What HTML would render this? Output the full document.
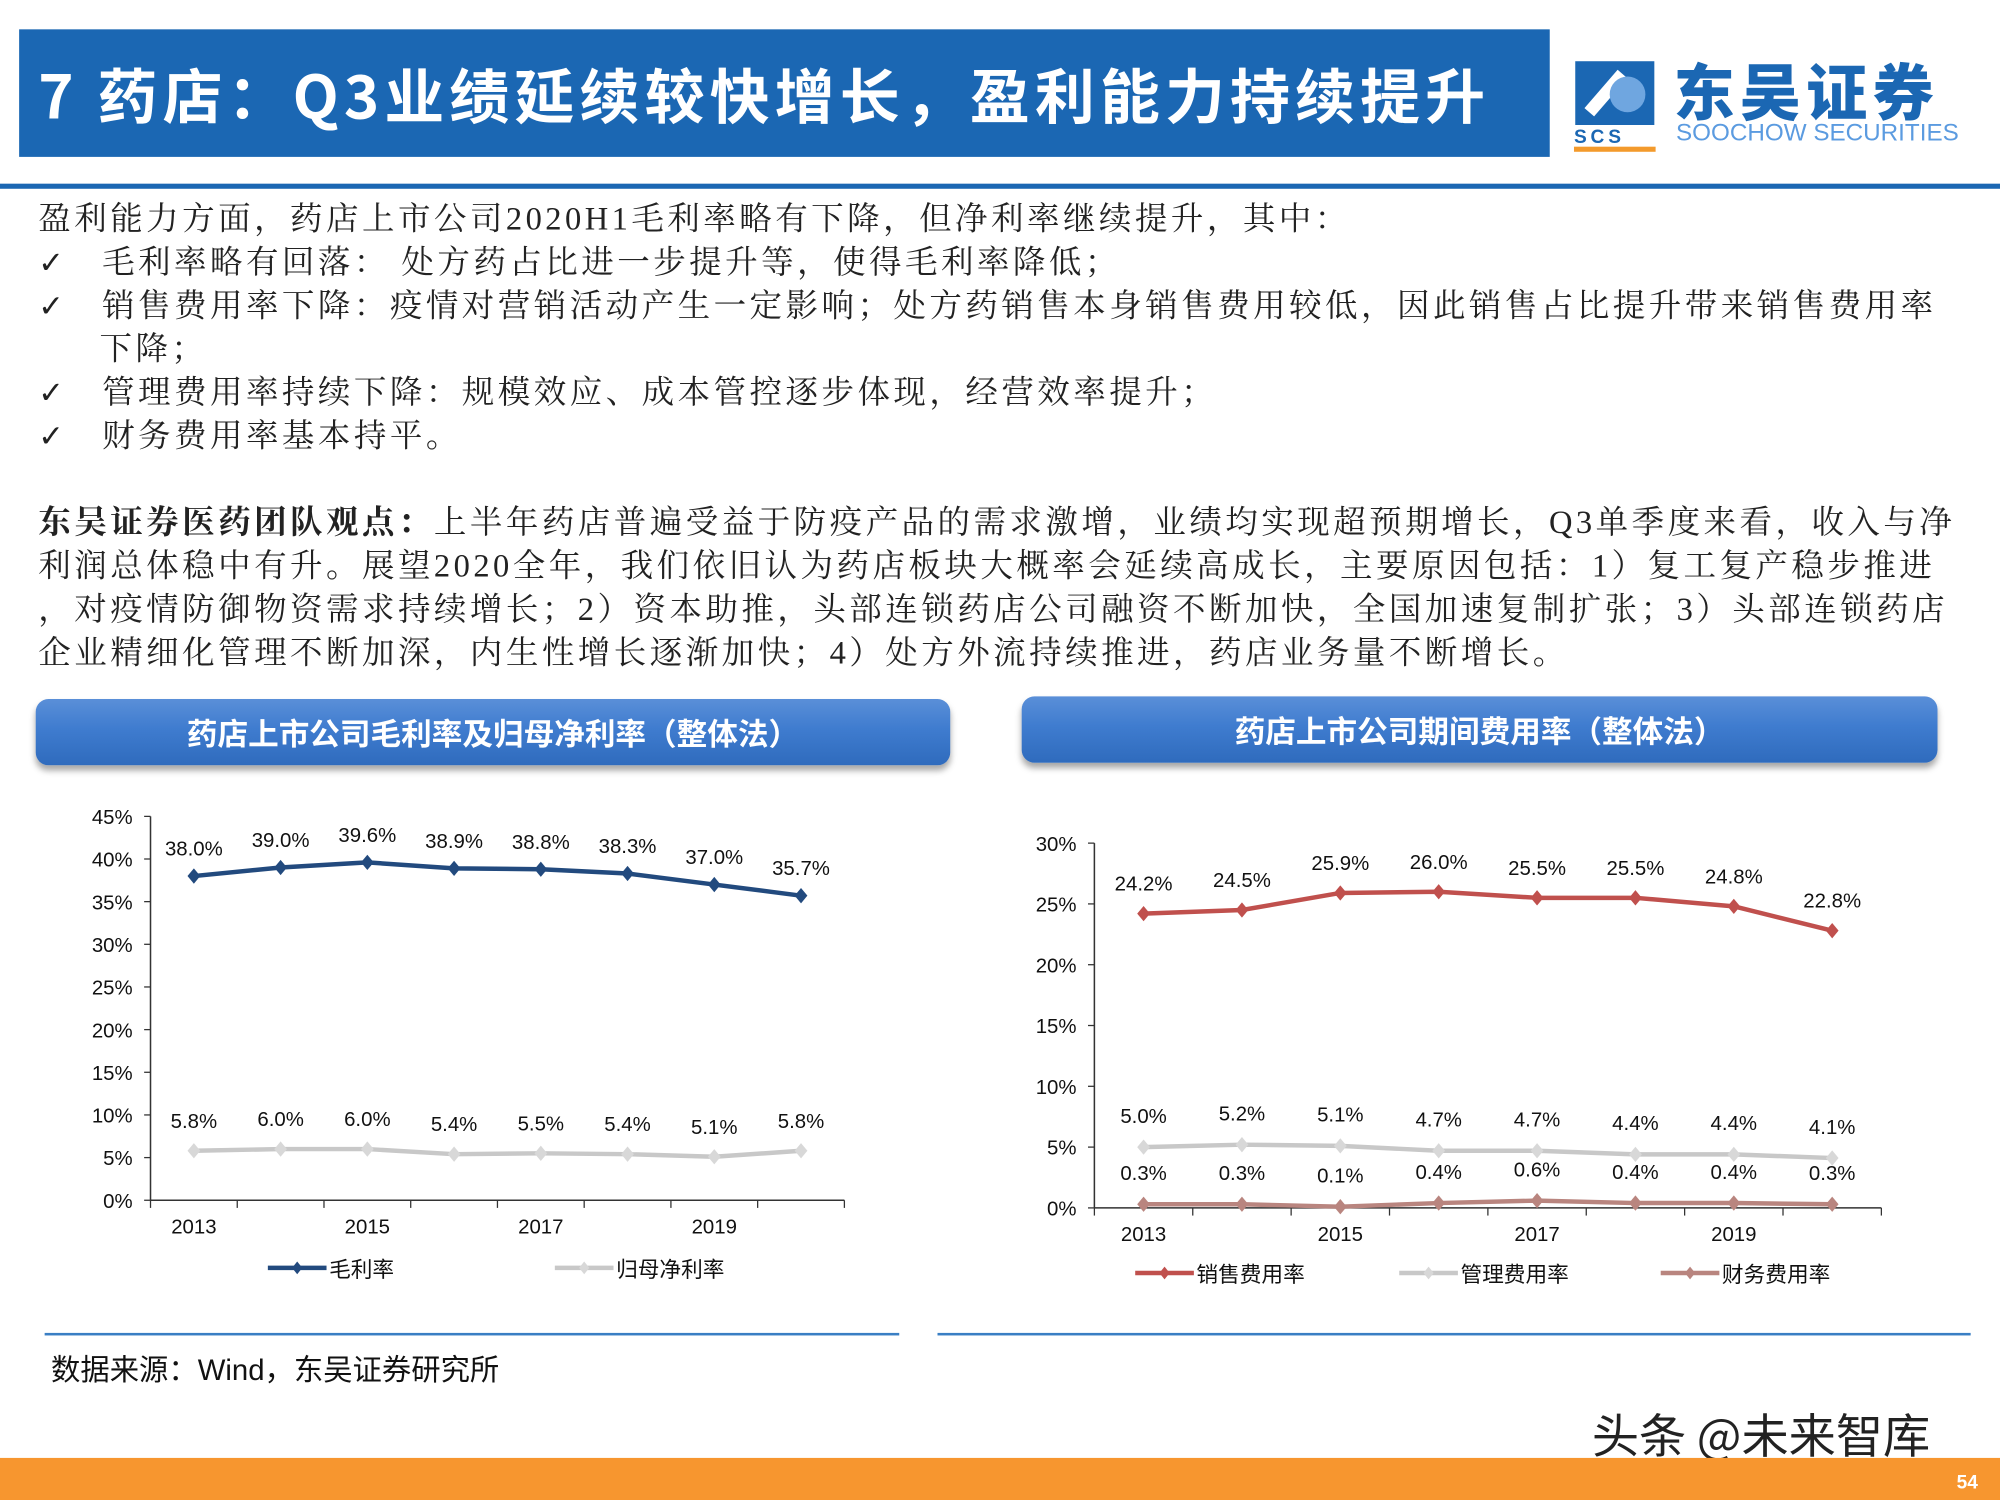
<!DOCTYPE html>
<html><head><meta charset="utf-8">
<style>
html,body{margin:0;padding:0;background:#fff;}
body{width:2000px;height:1500px;overflow:hidden;position:relative;}
#s{position:absolute;left:0;top:0;width:1568px;height:1176px;transform:scale(1.27551);transform-origin:0 0;}
.a{position:absolute;white-space:nowrap;}
.sans{font-family:"Liberation Sans","Noto Sans CJK SC",sans-serif;}
.serif{font-family:"Liberation Serif","Noto Serif CJK SC",serif;font-size:25.5px;letter-spacing:2.7px;color:#222;}
.ck{font-family:"DejaVu Sans",sans-serif;font-size:24px;}
.hdr{position:absolute;border-radius:10px;background:linear-gradient(180deg,#5a8fd8 0%,#3f7ccf 45%,#2f6bbd 100%);box-shadow:0 4px 5px rgba(0,0,0,0.35);color:#fff;font-family:"Noto Sans CJK SC",sans-serif;font-weight:bold;font-size:24px;text-align:center;}
svg text{font-family:"Liberation Sans","Noto Sans CJK SC",sans-serif;}
</style></head><body>
<div id="s">
<div class="a" style="left:15px;top:23px;width:1200px;height:100px;background:#1b67b3;"></div>
<div class="a" style="left:30px;top:40px;color:#fff;font-family:'Noto Sans CJK SC',sans-serif;font-weight:bold;font-size:47px;line-height:66px;letter-spacing:4px;">7 药店：Q3业绩延续较快增长，盈利能力持续提升</div>
<div class="a" style="left:1232px;top:40px;width:320px;height:80px;">
 <svg width="70" height="80" style="position:absolute;left:0;top:4px">
  <rect x="3" y="4" width="62" height="50" fill="#1b67b3"/>
  <path d="M14 44 L40 14" stroke="#fff" stroke-width="10"/>
  <circle cx="44" cy="30" r="14" fill="#6fa6e0"/>
  <text x="2" y="68" font-size="15" font-weight="bold" fill="#1b67b3" letter-spacing="3">SCS</text>
  <rect x="2" y="71" width="64" height="4" fill="#f39a2c"/>
 </svg>
 <div class="a" style="left:80px;top:-6px;font-family:'Noto Sans CJK SC',sans-serif;font-weight:900;font-size:48px;color:#1b67b3;letter-spacing:4px;">东吴证券</div>
 <div class="a sans" style="left:82px;top:54px;font-size:19px;color:#5b9be0;">SOOCHOW SECURITIES</div>
</div>
<div class="a" style="left:0;top:144px;width:1568px;height:4px;background:#1b67b3;"></div>

<div class="a serif" style="left:30px;top:152px;">盈利能力方面，药店上市公司2020H1毛利率略有下降，但净利率继续提升，其中：</div>
<div class="a serif" style="left:30px;top:186px;"><span class="ck">✓</span>&nbsp;&nbsp;&nbsp;毛利率略有回落： 处方药占比进一步提升等，使得毛利率降低；</div>
<div class="a serif" style="left:30px;top:220px;"><span class="ck">✓</span>&nbsp;&nbsp;&nbsp;销售费用率下降：疫情对营销活动产生一定影响；处方药销售本身销售费用较低，因此销售占比提升带来销售费用率</div>
<div class="a serif" style="left:78px;top:254px;">下降；</div>
<div class="a serif" style="left:30px;top:288px;"><span class="ck">✓</span>&nbsp;&nbsp;&nbsp;管理费用率持续下降：规模效应、成本管控逐步体现，经营效率提升；</div>
<div class="a serif" style="left:30px;top:322px;"><span class="ck">✓</span>&nbsp;&nbsp;&nbsp;财务费用率基本持平。</div>
<div class="a serif" style="left:30px;top:390px;"><b>东吴证券医药团队观点：</b>上半年药店普遍受益于防疫产品的需求激增，业绩均实现超预期增长，Q3单季度来看，收入与净</div>
<div class="a serif" style="left:30px;top:424px;">利润总体稳中有升。展望2020全年，我们依旧认为药店板块大概率会延续高成长，主要原因包括：1）复工复产稳步推进</div>
<div class="a serif" style="left:30px;top:458px;">，对疫情防御物资需求持续增长；2）资本助推，头部连锁药店公司融资不断加快，全国加速复制扩张；3）头部连锁药店</div>
<div class="a serif" style="left:30px;top:492px;">企业精细化管理不断加深，内生性增长逐渐加快；4）处方外流持续推进，药店业务量不断增长。</div>

<div class="hdr" style="left:28px;top:548px;width:717px;height:52px;line-height:52px;">药店上市公司毛利率及归母净利率（整体法）</div>
<div class="hdr" style="left:801px;top:546px;width:718px;height:52px;line-height:52px;">药店上市公司期间费用率（整体法）</div>

<svg id="c1" class="a" style="left:0;top:610px" width="784" height="420"></svg>
<svg id="c2" class="a" style="left:784px;top:610px" width="784" height="420"></svg>

<div class="a" style="left:35px;top:1045px;width:670px;height:2px;background:#3a7fc4;"></div>
<div class="a" style="left:735px;top:1045px;width:810px;height:2px;background:#3a7fc4;"></div>
<div class="a" style="left:40px;top:1055px;font-family:'Liberation Sans','Noto Sans CJK SC',sans-serif;font-size:23px;color:#111;">数据来源：Wind，东吴证券研究所</div>
<div class="a" style="left:1248px;top:1096px;font-family:'Noto Sans CJK SC',sans-serif;font-size:37px;color:#222;text-shadow:1px 1px 0 #fff,-1px -1px 0 #fff;">头条 @未来智库</div>
<div class="a" style="left:0;top:1143px;width:1568px;height:33px;background:#f7962f;"></div>
<div class="a sans" style="left:1534px;top:1154px;color:#fff;font-size:15px;font-weight:bold;">54</div>
</div>
<script>
const years=["2013","2014","2015","2016","2017","2018","2019","2020H1"];
const grossMargin=[38.0,39.0,39.6,38.9,38.8,38.3,37.0,35.7];
const netMargin=[5.8,6.0,6.0,5.4,5.5,5.4,5.1,5.8];
const leftTicks=[0,5,10,15,20,25,30,35,40,45];
const sellRate=[24.2,24.5,25.9,26.0,25.5,25.5,24.8,22.8];
const adminRate=[5.0,5.2,5.1,4.7,4.7,4.4,4.4,4.1];
const finRate=[0.3,0.3,0.1,0.4,0.6,0.4,0.4,0.3];
const rightTicks=[0,5,10,15,20,25,30];
const NS="http://www.w3.org/2000/svg";
function mk(svg,tag,attrs,txt){const e=document.createElementNS(NS,tag);for(const k in attrs)e.setAttribute(k,attrs[k]);if(txt!==undefined)e.textContent=txt;svg.appendChild(e);return e;}
function chart(svg,o){
  const n=years.length;const step=(o.x1-o.x0)/n;
  const X=i=>o.x0+step*(i+0.5);const Y=v=>o.y0-(v/o.max)*(o.y0-o.y1);
  const ax=mk(svg,'line',{x1:o.x0,y1:o.y1,x2:o.x0,y2:o.y0,stroke:'#333','stroke-width':1.2});
  
  const bx=mk(svg,'line',{x1:o.x0,y1:o.y0,x2:o.x1,y2:o.y0,stroke:'#333','stroke-width':1.2});
  
  o.ticks.forEach(t=>{mk(svg,'line',{x1:o.x0-5,x2:o.x0,y1:Y(t),y2:Y(t),stroke:'#333'});
    const tl=mk(svg,'text',{x:o.x0-14,y:Y(t)+6,'text-anchor':'end','font-size':16,fill:'#111'},t+'%');
    });
  for(let i=0;i<=n;i++)mk(svg,'line',{x1:o.x0+step*i,x2:o.x0+step*i,y1:o.y0,y2:o.y0+6,stroke:'#333'});
  years.forEach((y,i)=>{if(i%2==0){const t=mk(svg,'text',{x:X(i),y:o.y0+26,'text-anchor':'middle','font-size':16,fill:'#111'},y);
    }});
  o.series.forEach(s=>{
    const p=mk(svg,'polyline',{points:s.v.map((v,i)=>X(i)+','+Y(v)).join(' '),fill:'none',stroke:s.c,'stroke-width':3.5,'stroke-linejoin':'round'});
    
    s.v.forEach((v,i)=>{const x=X(i),y=Y(v);
      const m=mk(svg,'path',{d:`M${x} ${y-6}L${x+5} ${y}L${x} ${y+6}L${x-5} ${y}Z`,fill:s.m});
      
      const l=mk(svg,'text',{x:x,y:y-s.off,'text-anchor':'middle','font-size':16,fill:'#111'},v.toFixed(1)+'%');
      });
  });
  o.legend.forEach((g,k)=>{const s=o.series[k];
    mk(svg,'line',{x1:g.x,x2:g.x+46,y1:o.ly,y2:o.ly,stroke:s.c,'stroke-width':3.5});
    mk(svg,'path',{d:`M${g.x+23} ${o.ly-5}L${g.x+27} ${o.ly}L${g.x+23} ${o.ly+5}L${g.x+19} ${o.ly}Z`,fill:s.m});
    const t=mk(svg,'text',{x:g.x+48,y:o.ly+7,'font-size':17,fill:'#111'},g.t);
    });
}
chart(document.getElementById('c1'),{x0:118,x1:662,y0:331,y1:30,max:45,ticks:leftTicks,ly:384,
  series:[{v:grossMargin,c:'#224a7e',m:'#224a7e',off:16,name:'gross-margin'},{v:netMargin,c:'#c8c8c8',m:'#d8d8d8',off:18,name:'net-margin'}],
  legend:[{x:210,t:'毛利率'},{x:435,t:'归母净利率'}]});
chart(document.getElementById('c2'),{x0:74,x1:691,y0:337,y1:51,max:30,ticks:rightTicks,ly:388,
  series:[{v:sellRate,c:'#c0504d',m:'#c0504d',off:18,name:'selling-expense'},{v:adminRate,c:'#c8c8c8',m:'#d8d8d8',off:19,name:'admin-expense'},{v:finRate,c:'#b9857f',m:'#b9857f',off:19,name:'finance-expense'}],
  legend:[{x:106,t:'销售费用率'},{x:313,t:'管理费用率'},{x:518,t:'财务费用率'}]});
</script>
</body></html>
